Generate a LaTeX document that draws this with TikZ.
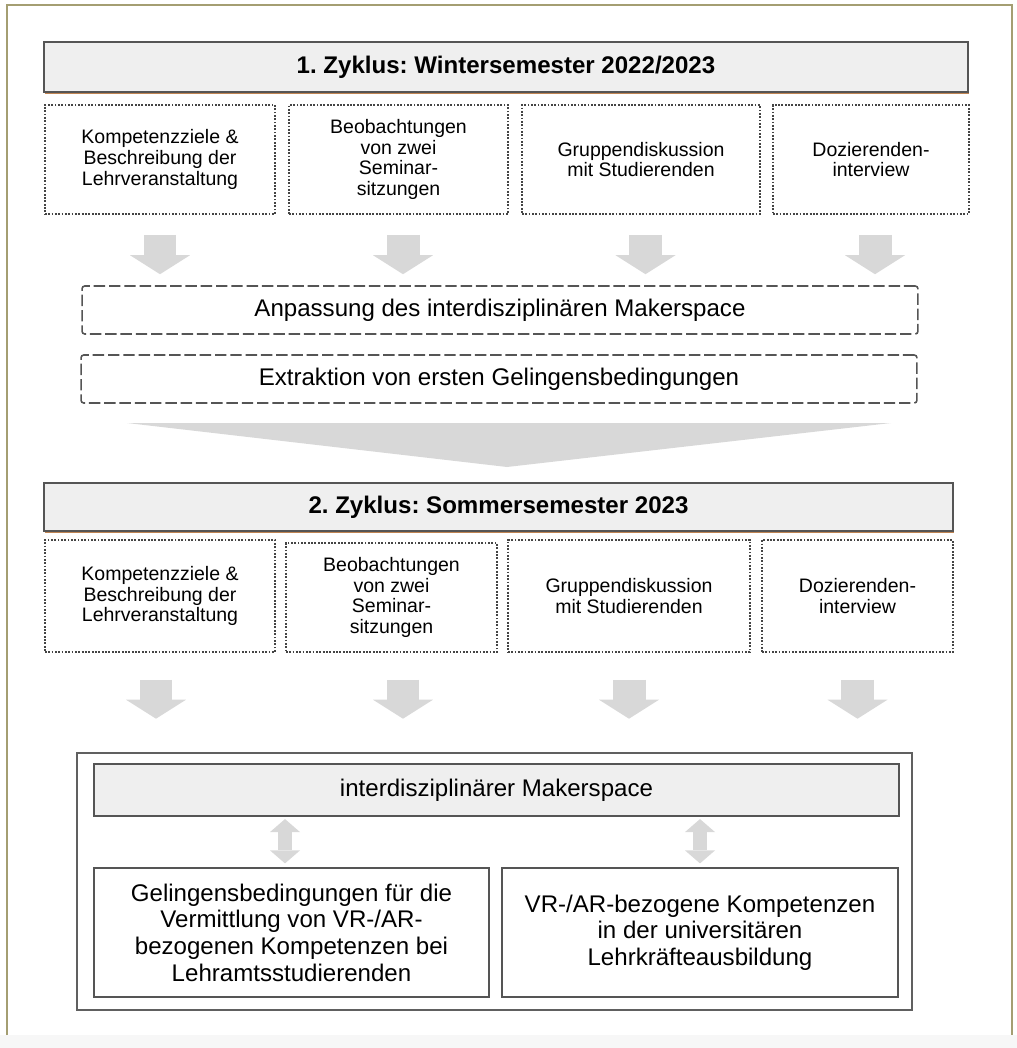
\documentclass[tikz,border=0pt]{standalone}
\usepackage{fontspec}
\setmainfont{Liberation Sans}
\usepackage{xcolor}
\usetikzlibrary{arrows.meta,shadows}

\definecolor{framegold}{HTML}{A49E72}
\definecolor{boxgray}{HTML}{EFEFEF}
\definecolor{linegray}{HTML}{555555}
\definecolor{arrowgray}{HTML}{D8D8D8}
\definecolor{shadowbrown}{HTML}{B9773F}
\definecolor{stripgray}{HTML}{F7F7F7}
\frenchspacing

\begin{document}
\begin{tikzpicture}[x=0.02cm, y=-0.02cm,
	titlebox/.style={draw=linegray, line width=1pt, fill=boxgray, inner sep=0pt,
		font=\fontsize{13.7}{15}\selectfont\bfseries,
		drop shadow={shadow xshift=0.6pt, shadow yshift=-1.4pt, fill=shadowbrown, opacity=0.9}},
	dotbox/.style={draw=linegray!80!black, line width=1pt, dash pattern=on 1pt off 0.9pt,
		align=center, inner sep=0pt, minimum height=2.18cm,
		font=\fontsize{11.1}{11.8}\selectfont},
	dashbox/.style={draw=linegray, line width=0.9pt, dash pattern=on 6.5pt off 2.2pt,
		rounded corners=1.5pt, minimum width=16.72cm, minimum height=0.96cm,
		font=\fontsize{13.7}{15}\selectfont},
	resultbox/.style={draw=linegray, line width=0.7pt, fill=white, align=center,
		inner sep=0pt, minimum width=7.9cm, minimum height=2.58cm,
		font=\fontsize{13.7}{15.2}\selectfont},
	fatarrow/.style={draw=arrowgray, line width=0.66cm,
		-{Triangle[width=1.2cm, length=0.38cm, line width=0pt]}},
	twoarrow/.style={draw=arrowgray, line width=0.28cm,
		{Triangle[width=0.6cm, length=0.26cm, line width=0pt]}-{Triangle[width=0.6cm, length=0.26cm, line width=0pt]}}]

	\useasboundingbox (0, 0) rectangle (1017, 1048);
	\fill[stripgray] (0, 1035) rectangle (1017, 1048);
	\draw[framegold, line width=1.1pt] (7, 1035) -- (7, 5) -- (1012, 5) -- (1012, 1035);

	\node[titlebox, minimum width=18.48cm, minimum height=1cm] (t1) at (506, 67) {1. Zyklus: Wintersemester 2022/2023};
	\node[dotbox, minimum width=4.6cm] (k1) at (160, 159.5) {Kompetenzziele \&\\Beschreibung der\\Lehrveranstaltung};
	\node[dotbox, minimum width=4.38cm] (b1) at (398.5, 159.5) {Beobachtungen\\von zwei\\Seminar-\\sitzungen};
	\node[dotbox, minimum width=4.76cm] (g1) at (641, 159.5) {Gruppendiskussion\\mit Studierenden};
	\node[dotbox, minimum width=3.92cm] (d1) at (871, 159.5) {Dozierenden-\\interview};
	\node[dashbox] (anp) at (500, 310) {Anpassung des interdisziplinären Makerspace};
	\node[dashbox] (ext) at (499, 379) {Extraktion von ersten Gelingensbedingungen};

	\draw[fatarrow, shorten <=0.4cm, shorten >=0.22cm] (k1.south) -- (k1.south |- anp.north);
	\draw[fatarrow, shorten <=0.4cm, shorten >=0.22cm] ([xshift=0.09cm]b1.south) -- ([xshift=0.09cm]b1.south |- anp.north);
	\draw[fatarrow, shorten <=0.4cm, shorten >=0.22cm] ([xshift=0.09cm]g1.south) -- ([xshift=0.09cm]g1.south |- anp.north);
	\draw[fatarrow, shorten <=0.4cm, shorten >=0.22cm] ([xshift=0.08cm]d1.south) -- ([xshift=0.08cm]d1.south |- anp.north);

	\fill[arrowgray] (127, 423) -- (891, 423) -- (507, 467) -- cycle;

	\node[titlebox, minimum width=18.18cm, minimum height=0.96cm] (t2) at (498.5, 507) {2. Zyklus: Sommersemester 2023};
	\node[dotbox, minimum width=4.6cm, minimum height=2.24cm] (k2) at (160, 596) {Kompetenzziele \&\\Beschreibung der\\Lehrveranstaltung};
	\node[dotbox, minimum width=4.22cm] (b2) at (391.5, 597.5) {Beobachtungen\\von zwei\\Seminar-\\sitzungen};
	\node[dotbox, minimum width=4.84cm, minimum height=2.24cm] (g2) at (629, 596) {Gruppendiskussion\\mit Studierenden};
	\node[dotbox, minimum width=3.82cm, minimum height=2.24cm] (d2) at (857.5, 596) {Dozierenden-\\interview};

	\node[draw=gray!75!black, line width=1.5pt, minimum width=16.7cm, minimum height=5.14cm] (outer) at (494.5, 881.5) {};
	\node[draw=linegray, line width=1.2pt, fill=boxgray, minimum width=16.1cm, minimum height=1.04cm,
		font=\fontsize{13.7}{15}\selectfont] (mk) at (496.5, 790) {interdisziplinärer Makerspace};
	\node[resultbox] (gel) at (291.5, 932.5) {Gelingensbedingungen für die\\Vermittlung von VR-/AR-\\bezogenen Kompetenzen bei\\Lehramtsstudierenden};
	\node[resultbox, minimum width=7.92cm] (vr) at (700, 932.5) {VR-/AR-bezogene Kompetenzen\\in der universitären\\Lehrkräfteausbildung};

	\draw[fatarrow, shorten <=0.54cm, shorten >=0.66cm] ([xshift=-0.08cm]k2.south) -- ([xshift=-0.08cm]k2.south |- outer.north);
	\draw[fatarrow, shorten <=0.54cm, shorten >=0.66cm] ([xshift=0.23cm]b2.south) -- ([xshift=0.23cm]b2.south |- outer.north);
	\draw[fatarrow, shorten <=0.54cm, shorten >=0.66cm] (g2.south) -- (g2.south |- outer.north);
	\draw[fatarrow, shorten <=0.54cm, shorten >=0.66cm] (d2.south) -- (d2.south |- outer.north);

	\draw[twoarrow, shorten <=0.04cm, shorten >=0.08cm] ([xshift=-0.13cm]gel.north |- mk.south) -- ([xshift=-0.13cm]gel.north);
	\draw[twoarrow, shorten <=0.04cm, shorten >=0.08cm] (vr.north |- mk.south) -- (vr.north);
\end{tikzpicture}
\end{document}
